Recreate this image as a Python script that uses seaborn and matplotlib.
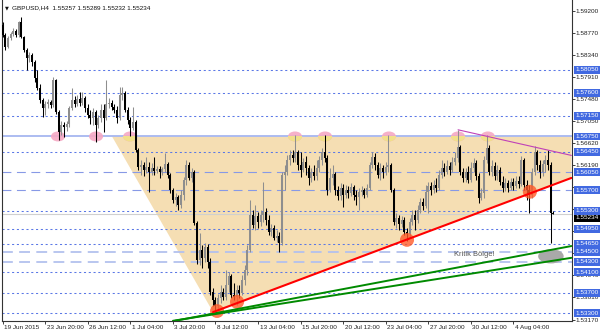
import numpy as np
import pandas as pd
import matplotlib
matplotlib.use("Agg")
import matplotlib.pyplot as plt
import seaborn as sns
from matplotlib.patches import Ellipse, Rectangle
from matplotlib.transforms import blended_transform_factory, ScaledTranslation

# ---------------- data (GBPUSD H4) ----------------
opens = [
    1.5893, 1.5873, 1.5850, 1.5867, 1.5875, 1.5881, 1.5873, 1.5899, 1.5869, 1.5844,
    1.5828, 1.5834, 1.5820, 1.5789, 1.5770, 1.5746, 1.5731, 1.5738, 1.5742, 1.5737,
    1.5785, 1.5723, 1.5684, 1.5697, 1.5694, 1.5699, 1.5731, 1.5746, 1.5738, 1.5748,
    1.5740, 1.5750, 1.5731, 1.5717, 1.5711, 1.5723, 1.5697, 1.5711, 1.5727, 1.5711,
    1.5738, 1.5740, 1.5733, 1.5727, 1.5711, 1.5756, 1.5760, 1.5727, 1.5707, 1.5692,
    1.5703, 1.5649, 1.5615, 1.5619, 1.5610, 1.5615, 1.5606, 1.5613, 1.5608, 1.5611,
    1.5606, 1.5611, 1.5621, 1.5600, 1.5570, 1.5551, 1.5557, 1.5541, 1.5561, 1.5590,
    1.5619, 1.5594, 1.5606, 1.5506, 1.5434, 1.5453, 1.5438, 1.5459, 1.5430, 1.5371,
    1.5356, 1.5344, 1.5360, 1.5371, 1.5362, 1.5385, 1.5403, 1.5365, 1.5362, 1.5375,
    1.5369, 1.5395, 1.5415, 1.5453, 1.5522, 1.5502, 1.5520, 1.5508, 1.5522, 1.5528,
    1.5512, 1.5488, 1.5496, 1.5477, 1.5481, 1.5467, 1.5600, 1.5606, 1.5629, 1.5639,
    1.5633, 1.5645, 1.5619, 1.5610, 1.5625, 1.5613, 1.5594, 1.5606, 1.5598, 1.5613,
    1.5629, 1.5645, 1.5633, 1.5570, 1.5594, 1.5602, 1.5570, 1.5559, 1.5574, 1.5561,
    1.5570, 1.5565, 1.5576, 1.5561, 1.5557, 1.5567, 1.5570, 1.5561, 1.5574, 1.5619,
    1.5635, 1.5619, 1.5600, 1.5613, 1.5606, 1.5615, 1.5619, 1.5570, 1.5508, 1.5516,
    1.5504, 1.5512, 1.5488, 1.5485, 1.5508, 1.5522, 1.5512, 1.5531, 1.5547, 1.5539,
    1.5567, 1.5578, 1.5570, 1.5580, 1.5574, 1.5600, 1.5613, 1.5606, 1.5617, 1.5610,
    1.5625, 1.5633, 1.5654, 1.5606, 1.5594, 1.5606, 1.5590, 1.5613, 1.5623, 1.5598,
    1.5555, 1.5565, 1.5629, 1.5653, 1.5606, 1.5617, 1.5598, 1.5610, 1.5586, 1.5574,
    1.5584, 1.5574, 1.5586, 1.5578, 1.5588, 1.5582, 1.5629, 1.5580, 1.5570, 1.5561,
    1.5606, 1.5645, 1.5619, 1.5606, 1.5621, 1.5629, 1.5619, 1.55257,
]
highs = [
    1.5899, 1.5877, 1.5871, 1.5879, 1.5887, 1.5885, 1.5901, 1.5908, 1.5871, 1.5848,
    1.5840, 1.5838, 1.5824, 1.5805, 1.5778, 1.5750, 1.5744, 1.5748, 1.5746, 1.5791,
    1.5787, 1.5727, 1.5705, 1.5703, 1.5705, 1.5735, 1.5770, 1.5754, 1.5756, 1.5762,
    1.5762, 1.5754, 1.5738, 1.5727, 1.5731, 1.5727, 1.5717, 1.5738, 1.5738, 1.5785,
    1.5750, 1.5746, 1.5738, 1.5735, 1.5772, 1.5772, 1.5764, 1.5733, 1.5713, 1.5733,
    1.5707, 1.5653, 1.5629, 1.5625, 1.5635, 1.5625, 1.5623, 1.5635, 1.5617, 1.5617,
    1.5615, 1.5643, 1.5625, 1.5604, 1.5574, 1.5565, 1.5561, 1.5570, 1.5596, 1.5629,
    1.5625, 1.5613, 1.5610, 1.5510, 1.5486, 1.5463, 1.5467, 1.5465, 1.5438, 1.5379,
    1.5362, 1.5367, 1.5385, 1.5379, 1.5415, 1.5411, 1.5407, 1.5389, 1.5385, 1.5385,
    1.5405, 1.5424, 1.5463, 1.5551, 1.5531, 1.5541, 1.5528, 1.5531, 1.5586, 1.5535,
    1.5522, 1.5504, 1.5502, 1.5492, 1.5488, 1.5606, 1.5619, 1.5639, 1.5649, 1.5649,
    1.5678, 1.5649, 1.5645, 1.5633, 1.5637, 1.5619, 1.5613, 1.5619, 1.5629, 1.5637,
    1.5653, 1.5678, 1.5639, 1.5613, 1.5619, 1.5606, 1.5578, 1.5584, 1.5582, 1.5580,
    1.5578, 1.5584, 1.5580, 1.5570, 1.5574, 1.5578, 1.5574, 1.5582, 1.5625, 1.5645,
    1.5643, 1.5625, 1.5623, 1.5619, 1.5625, 1.5678, 1.5623, 1.5574, 1.5526, 1.5522,
    1.5520, 1.5518, 1.5496, 1.5516, 1.5531, 1.5531, 1.5541, 1.5555, 1.5555, 1.5580,
    1.5586, 1.5586, 1.5590, 1.5594, 1.5610, 1.5629, 1.5623, 1.5629, 1.5625, 1.5635,
    1.5645, 1.5688, 1.5658, 1.5613, 1.5613, 1.5617, 1.5625, 1.5633, 1.5629, 1.5604,
    1.5574, 1.5637, 1.5678, 1.5658, 1.5629, 1.5625, 1.5619, 1.5615, 1.5598, 1.5594,
    1.5590, 1.5594, 1.5594, 1.5598, 1.5598, 1.5637, 1.5633, 1.5590, 1.5580, 1.5613,
    1.5656, 1.5649, 1.5629, 1.5629, 1.5639, 1.5649, 1.5625, 1.55289,
]
lows = [
    1.5869, 1.5844, 1.5848, 1.5863, 1.5871, 1.5869, 1.5869, 1.5867, 1.5840, 1.5805,
    1.5820, 1.5813, 1.5781, 1.5766, 1.5740, 1.5713, 1.5717, 1.5731, 1.5731, 1.5733,
    1.5719, 1.5668, 1.5678, 1.5674, 1.5686, 1.5694, 1.5727, 1.5733, 1.5735, 1.5735,
    1.5737, 1.5723, 1.5711, 1.5699, 1.5697, 1.5664, 1.5692, 1.5703, 1.5684, 1.5707,
    1.5731, 1.5727, 1.5721, 1.5701, 1.5707, 1.5746, 1.5723, 1.5699, 1.5676, 1.5688,
    1.5645, 1.5610, 1.5600, 1.5598, 1.5604, 1.5567, 1.5600, 1.5600, 1.5604, 1.5594,
    1.5600, 1.5606, 1.5594, 1.5565, 1.5545, 1.5539, 1.5531, 1.5535, 1.5551, 1.5580,
    1.5590, 1.5586, 1.5502, 1.5426, 1.5424, 1.5418, 1.5430, 1.5418, 1.5365, 1.5344,
    1.5332, 1.5336, 1.5350, 1.5356, 1.5356, 1.5371, 1.5360, 1.5356, 1.5346, 1.5360,
    1.5365, 1.5385, 1.5405, 1.5449, 1.5496, 1.5492, 1.5496, 1.5500, 1.5508, 1.5502,
    1.5483, 1.5481, 1.5473, 1.5469, 1.5449, 1.5463, 1.5570, 1.5600, 1.5619, 1.5625,
    1.5625, 1.5610, 1.5596, 1.5606, 1.5600, 1.5580, 1.5586, 1.5590, 1.5590, 1.5606,
    1.5619, 1.5625, 1.5561, 1.5567, 1.5580, 1.5561, 1.5551, 1.5551, 1.5537, 1.5555,
    1.5555, 1.5559, 1.5551, 1.5541, 1.5531, 1.5559, 1.5555, 1.5557, 1.5570, 1.5613,
    1.5610, 1.5594, 1.5590, 1.5594, 1.5600, 1.5606, 1.5567, 1.5502, 1.5496, 1.5492,
    1.5498, 1.5483, 1.5471, 1.5477, 1.5502, 1.5492, 1.5506, 1.5526, 1.5531, 1.5535,
    1.5526, 1.5561, 1.5565, 1.5567, 1.5570, 1.5594, 1.5598, 1.5602, 1.5600, 1.5606,
    1.5619, 1.5625, 1.5600, 1.5586, 1.5586, 1.5584, 1.5586, 1.5606, 1.5590, 1.5545,
    1.5551, 1.5555, 1.5623, 1.5600, 1.5598, 1.5590, 1.5590, 1.5580, 1.5567, 1.5568,
    1.5567, 1.5570, 1.5570, 1.5574, 1.5574, 1.5578, 1.5570, 1.5551, 1.5526, 1.5555,
    1.5600, 1.5610, 1.5594, 1.5598, 1.5606, 1.5610, 1.5467, 1.55232,
]
closes = [
    1.5873, 1.5850, 1.5867, 1.5875, 1.5881, 1.5873, 1.5899, 1.5869, 1.5844, 1.5828,
    1.5834, 1.5820, 1.5789, 1.5770, 1.5746, 1.5731, 1.5738, 1.5742, 1.5737, 1.5785,
    1.5723, 1.5684, 1.5697, 1.5694, 1.5699, 1.5731, 1.5746, 1.5738, 1.5748, 1.5740,
    1.5750, 1.5731, 1.5717, 1.5711, 1.5723, 1.5697, 1.5711, 1.5727, 1.5711, 1.5738,
    1.5740, 1.5733, 1.5727, 1.5711, 1.5756, 1.5760, 1.5727, 1.5707, 1.5692, 1.5703,
    1.5649, 1.5615, 1.5619, 1.5610, 1.5615, 1.5606, 1.5613, 1.5608, 1.5611, 1.5606,
    1.5611, 1.5621, 1.5600, 1.5570, 1.5551, 1.5557, 1.5541, 1.5561, 1.5590, 1.5619,
    1.5594, 1.5606, 1.5506, 1.5434, 1.5453, 1.5438, 1.5459, 1.5430, 1.5371, 1.5356,
    1.5344, 1.5360, 1.5371, 1.5362, 1.5385, 1.5403, 1.5365, 1.5362, 1.5375, 1.5369,
    1.5395, 1.5415, 1.5453, 1.5522, 1.5502, 1.5520, 1.5508, 1.5522, 1.5528, 1.5512,
    1.5488, 1.5496, 1.5477, 1.5481, 1.5467, 1.5600, 1.5606, 1.5629, 1.5639, 1.5633,
    1.5645, 1.5619, 1.5610, 1.5625, 1.5613, 1.5594, 1.5606, 1.5598, 1.5613, 1.5629,
    1.5645, 1.5633, 1.5570, 1.5594, 1.5602, 1.5570, 1.5559, 1.5574, 1.5561, 1.5570,
    1.5565, 1.5576, 1.5561, 1.5557, 1.5567, 1.5570, 1.5561, 1.5574, 1.5619, 1.5635,
    1.5619, 1.5600, 1.5613, 1.5606, 1.5615, 1.5619, 1.5570, 1.5508, 1.5516, 1.5504,
    1.5512, 1.5488, 1.5485, 1.5508, 1.5522, 1.5512, 1.5531, 1.5547, 1.5539, 1.5567,
    1.5578, 1.5570, 1.5580, 1.5574, 1.5600, 1.5613, 1.5606, 1.5617, 1.5610, 1.5625,
    1.5633, 1.5654, 1.5606, 1.5594, 1.5606, 1.5590, 1.5613, 1.5623, 1.5598, 1.5555,
    1.5565, 1.5629, 1.5653, 1.5606, 1.5617, 1.5598, 1.5610, 1.5586, 1.5574, 1.5584,
    1.5574, 1.5586, 1.5578, 1.5588, 1.5582, 1.5629, 1.5580, 1.5570, 1.5561, 1.5606,
    1.5645, 1.5619, 1.5606, 1.5621, 1.5629, 1.5619, 1.5526, 1.55234,
]

date_tick_bars = [0, 16, 32, 48, 64, 80, 96, 112, 128, 144, 160, 176, 192]
date_tick_labels = ["19 Jun 2015", "23 Jun 20:00", "26 Jun 12:00", "1 Jul 04:00",
                    "3 Jul 20:00", "8 Jul 12:00", "13 Jul 04:00", "15 Jul 20:00",
                    "20 Jul 12:00", "23 Jul 04:00", "27 Jul 20:00", "30 Jul 12:00",
                    "4 Aug 04:00"]

# price scale ticks; the ones hidden behind level boxes in the reference carry no label
price_ticks = [1.5920, 1.5877, 1.5834, 1.5791, 1.5748, 1.5705, 1.5662, 1.5619,
               1.5576, 1.5533, 1.5490, 1.5447, 1.5404, 1.5361, 1.5317]
price_tick_labels = ["1.59200", "1.58770", "1.58340", "1.57910", "1.57480", "1.57050",
                     "1.56620", "1.56190", "", "", "", "",
                     "1.54040", "1.53610", "1.53170"]

dotted_levels = [1.5805, 1.5760, 1.5715, 1.5645, 1.5530, 1.5495, 1.5465, 1.5410, 1.5370, 1.5330]
dashed_levels = [1.5605, 1.5570]
dashed_light_levels = [1.5450, 1.5430]
solid_level = 1.5675
current_price = 1.55234
header = "GBPUSD,H4  1.55257 1.55289 1.55232 1.55234"

pink_marks_x = [20.8, 35.1, 47.9, 109.9, 121.2, 145.2, 171.2, 182.4]
pink_mark_y = 1.5675
orange_marks_x = [80.6, 88.1, 152.0, 198.2]
orange_marks_y = [1.5334, 1.5352, 1.5473, 1.5567]

zone_x = [41.1, 213.8, 213.8, 79.1]
zone_y = [1.5675, 1.5675, 1.5594, 1.5332]
support_x = [79.1, 213.8]
support_y = [1.5332, 1.5594]
green_up_x = [64.8, 213.8]
green_up_y = [1.5315, 1.5461]
green_lo_x = [64.0, 213.8]
green_lo_y = [1.5315, 1.5438]
resist_x = [171.2, 213.8]
resist_y = [1.5688, 1.5638]
critical_x = 206.1
critical_y = 1.5441
critical_text = "Kritik Bölge!"
critical_text_x = 169.7
critical_text_y = 1.5444

# ---------------- style ----------------
sns.set_theme(style="white")
plt.rcParams["font.family"] = ["Liberation Sans", "DejaVu Sans"]

df = pd.DataFrame({"bar": np.arange(len(closes)), "open": opens, "high": highs,
                   "low": lows, "close": closes})

fig = plt.figure(figsize=(6.0, 3.33), dpi=100)
fig.patch.set_facecolor("white")
ax = fig.add_axes([2 / 600, 12 / 333, 569.5 / 600, 321 / 333])
ax.set_facecolor("white")
ax.set_xlim(-0.26, 213.84)
ax.set_ylim(1.53146, 1.59415)

# zone fill
ax.fill(zone_x, zone_y, color="#f5deb3", lw=0, zorder=1)

# horizontal levels
for lv in dotted_levels:
    ax.axhline(lv, color="#5b78e6", lw=0.75, ls=(0, (2.0, 2.6)), zorder=2)
for lv in dashed_levels:
    ax.axhline(lv, color="#8799e6", lw=0.8, ls=(0, (8, 5)), zorder=2)
for lv in dashed_light_levels:
    ax.axhline(lv, color="#b3c1ee", lw=1.3, ls=(0, (6, 3.5)), zorder=2)
ax.axhline(solid_level, color="#a6b6f0", lw=1.3, zorder=2)
ax.axhline(current_price, color="#d0d0d0", lw=0.8, zorder=1.5)

# pink marks
clip_rect = Rectangle((-10, 1.50), 300, solid_level - 1.50, transform=ax.transData)
for xm in pink_marks_x:
    ax.add_patch(Ellipse((xm, pink_mark_y), 5.3, 0.00195, fc="#f6a9c4", ec="none",
                         alpha=0.9, zorder=2.6))
    if xm > zone_x[0] + 4:
        e = Ellipse((xm, pink_mark_y), 5.3, 0.00195, fc="#f1e08a", ec="none", zorder=2.7)
        ax.add_patch(e)
        e.set_clip_path(clip_rect)

# candles
up = df["close"] >= df["open"]
wick_col = np.where(up, "#8e8e8e", "#000000")
ax.vlines(df["bar"], df["low"], df["high"], colors=wick_col, lw=0.75, zorder=3)
body_lo = np.minimum(df["open"], df["close"])
body_hi = np.maximum(np.maximum(df["open"], df["close"]), body_lo + 0.00012)
ax.vlines(df["bar"], body_lo, body_hi, colors=wick_col, lw=1.45, zorder=3.5)

# orange touch marks
for xm, ym in zip(orange_marks_x, orange_marks_y):
    ax.add_patch(Ellipse((xm, ym), 5.3, 0.0027, fc="#ff5a28", ec="none",
                         alpha=0.8, zorder=4))

# critical zone ellipse + text
ax.add_patch(Ellipse((critical_x, critical_y), 9.6, 0.0028, fc="#a9a9a9", ec="none", zorder=4.5))
ax.text(critical_text_x, critical_text_y, critical_text, fontsize=5.4, color="#555555",
        ha="left", va="center", zorder=6)

# trend lines via seaborn
sns.lineplot(x=green_up_x, y=green_up_y, color="#008a00", lw=1.4, ax=ax, zorder=5)
sns.lineplot(x=green_lo_x, y=green_lo_y, color="#008a00", lw=1.4, ax=ax, zorder=5)
sns.lineplot(x=support_x, y=support_y, color="#ff0000", lw=1.5, ax=ax, zorder=5.5)
sns.lineplot(x=resist_x, y=resist_y, color="#c040b8", lw=0.8, ax=ax, zorder=5.5)

# spines
for s in ["left", "right", "bottom"]:
    ax.spines[s].set_visible(True)
    ax.spines[s].set_color("#333333")
    ax.spines[s].set_linewidth(0.8)
ax.spines["top"].set_visible(False)

# y axis on the right
ax.yaxis.tick_right()
ax.set_yticks(price_ticks)
ax.set_yticklabels(price_tick_labels)
ax.tick_params(axis="y", which="both", direction="out", length=2, width=0.6,
               pad=1.2, labelsize=4.6, colors="#222222", right=True, left=False)
ax.set_ylabel("")

# x axis
ax.set_xticks(date_tick_bars)
ax.set_xticklabels(date_tick_labels)
ax.tick_params(axis="x", direction="out", length=2.2, width=0.6, pad=0.8,
               labelsize=4.6, colors="#222222", bottom=True)
for lbl in ax.get_xticklabels():
    lbl.set_horizontalalignment("left")
    lbl.set_transform(lbl.get_transform() + ScaledTranslation(1.5 / 100, 0, fig.dpi_scale_trans))
ax.set_xlabel("")

# highlighted level labels on the right
btr = blended_transform_factory(ax.transAxes, ax.transData) + \
    ScaledTranslation(4.2 / 100, 0, fig.dpi_scale_trans)
for lv in sorted(dotted_levels + dashed_levels + dashed_light_levels + [solid_level]):
    ax.text(1.0, lv, f"{lv:.5f}", transform=btr, fontsize=4.6, color="white",
            ha="left", va="center", zorder=11, clip_on=False,
            bbox=dict(boxstyle="square,pad=0.22", fc="#4169e1", ec="none"))
# current price label, tucked just under the 1.55300 box
btr_cur = blended_transform_factory(ax.transAxes, ax.transData) + \
    ScaledTranslation(4.2 / 100, -3.6 / 100, fig.dpi_scale_trans)
ax.text(1.0, current_price, f"{current_price:.5f}", transform=btr_cur, fontsize=4.6,
        color="white", ha="left", va="center", zorder=10, clip_on=False,
        bbox=dict(boxstyle="square,pad=0.22", fc="#000000", ec="none"))

# header
fig.text(5 / 600, 1 - 8 / 333, "▼", fontsize=3.6, color="#111111", va="center",
         ha="left", family=["DejaVu Sans"])
fig.text(12.5 / 600, 1 - 8 / 333, header, fontsize=4.6, color="#111111",
         va="center", ha="left")

fig.savefig("out.png", dpi=100, facecolor="white")
